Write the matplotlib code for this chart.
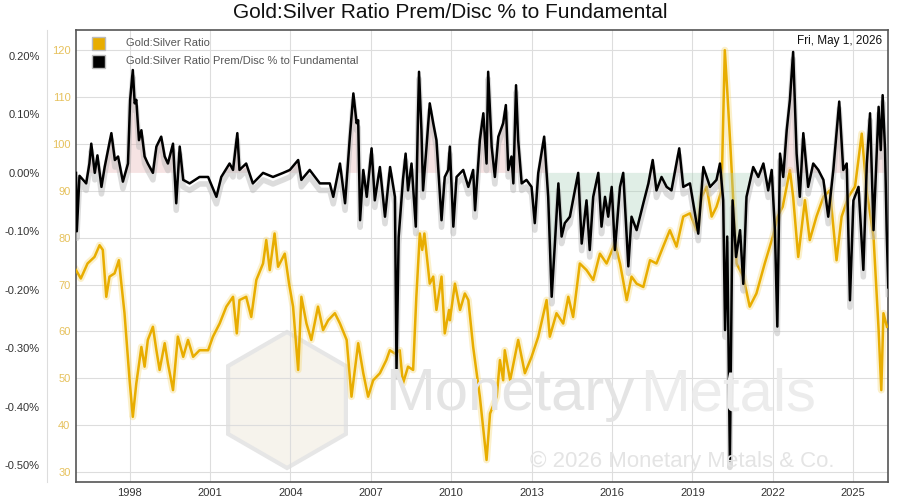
import matplotlib
matplotlib.use("Agg")
import matplotlib.pyplot as plt
import numpy as np
from matplotlib.patches import RegularPolygon, Rectangle
from matplotlib.ticker import FuncFormatter

prem_t = [1996.0,1996.03,1996.13,1996.38,1996.5,1996.57,1996.7,1996.8,1996.95,1997.07,1997.32,1997.45,1997.57,1997.75,1997.94,
1998.02,1998.12,1998.19,1998.25,1998.35,1998.44,1998.56,1998.68,1998.87,1999.0,1999.18,1999.31,1999.43,1999.62,1999.74,1999.87,
2000.0,2000.24,2000.61,2000.93,2001.24,2001.42,2001.73,2001.86,2002.02,2002.1,2002.35,2002.6,2002.98,2003.35,2003.73,2003.98,
2004.29,2004.41,2004.72,2005.1,2005.47,2005.6,2005.85,2006.04,2006.22,2006.35,2006.47,2006.53,2006.6,2006.72,2006.85,2007.03,
2007.15,2007.34,2007.53,2007.72,2007.9,2007.96,2008.04,2008.2,2008.3,2008.39,2008.52,2008.68,2008.76,2008.8,2008.89,2008.95,
2009.08,2009.2,2009.33,2009.45,2009.64,2009.76,2009.89,2009.95,2010.08,2010.2,2010.45,2010.64,2010.82,2010.89,2011.07,2011.2,
2011.32,2011.38,2011.51,2011.63,2011.76,2011.94,2012.04,2012.13,2012.25,2012.32,2012.42,2012.5,2012.63,2012.81,2013.0,2013.12,
2013.25,2013.47,2013.62,2013.75,2013.87,2014.0,2014.12,2014.24,2014.43,2014.74,2014.87,2015.05,2015.17,2015.3,2015.49,2015.61,
2015.74,2015.86,2015.99,2016.11,2016.3,2016.42,2016.61,2016.73,2016.92,2017.17,2017.36,2017.52,2017.66,2017.85,2018.04,2018.22,
2018.51,2018.66,2018.91,2019.22,2019.41,2019.66,2019.9,2020.03,2020.15,2020.22,2020.3,2020.4,2020.5,2020.63,2020.78,2020.9,
2021.02,2021.27,2021.46,2021.65,2021.83,2021.96,2022.08,2022.17,2022.27,2022.39,2022.52,2022.64,2022.76,2022.89,2023.01,2023.14,
2023.32,2023.51,2023.7,2023.89,2024.07,2024.26,2024.48,2024.63,2024.76,2024.88,2025.01,2025.2,2025.38,2025.51,2025.63,2025.76,
2025.95,2026.03,2026.1,2026.19,2026.25,2026.31]
prem_v = [0.0,-0.10,-0.005,-0.018,0.016,0.05,0.0,0.03,-0.024,0.01,0.068,0.022,0.028,-0.015,0.016,
0.125,0.176,0.119,0.125,0.056,0.073,0.028,0.016,0.0,0.045,0.062,0.028,0.016,0.05,-0.052,0.045,
-0.012,-0.018,-0.007,-0.007,-0.041,-0.007,0.016,0.005,0.068,0.005,0.016,-0.018,0.0,-0.007,0.0,0.005,
0.022,-0.012,0.005,-0.018,-0.018,-0.041,0.016,-0.052,0.062,0.136,0.085,0.09,-0.081,0.005,-0.041,0.042,
-0.047,0.01,-0.075,0.01,-0.041,-0.338,-0.11,-0.012,0.033,-0.03,0.016,-0.092,0.096,0.173,0.073,-0.03,
0.045,0.119,0.085,0.056,-0.081,-0.007,0.005,0.045,-0.092,-0.007,0.005,-0.024,0.005,-0.064,0.056,0.102,
0.016,0.173,0.045,-0.007,0.062,0.085,0.116,0.005,0.028,-0.018,0.15,0.056,-0.018,-0.012,-0.024,-0.086,
0.0,0.062,-0.041,-0.212,-0.121,-0.018,-0.109,-0.086,-0.075,0.0,-0.121,-0.047,-0.132,-0.041,0.0,-0.092,
-0.041,-0.075,-0.024,-0.132,-0.024,0.0,-0.16,-0.075,-0.098,-0.052,-0.018,0.022,-0.03,-0.007,-0.024,-0.03,
0.042,-0.024,-0.018,-0.104,0.01,-0.024,-0.012,0.016,-0.047,-0.269,-0.109,-0.492,-0.047,-0.144,-0.098,-0.19,
-0.041,0.01,-0.007,0.016,-0.03,0.005,-0.098,-0.263,0.033,-0.007,0.073,0.125,0.207,0.033,-0.041,0.068,
-0.024,0.016,0.005,-0.012,-0.075,0.005,0.122,0.005,0.016,-0.218,-0.047,-0.024,-0.166,0.016,0.102,-0.098,
0.113,0.039,0.133,0.039,-0.098,-0.196]

gsr_t = [1996.0,1996.18,1996.43,1996.69,1996.88,1997.0,1997.13,1997.25,1997.44,1997.6,1997.81,1998.0,1998.12,1998.25,1998.44,
1998.56,1998.68,1998.87,1999.0,1999.12,1999.31,1999.43,1999.62,1999.8,2000.0,2000.18,2000.37,2000.61,2000.93,2001.11,2001.36,
2001.61,2001.86,2002.0,2002.1,2002.35,2002.54,2002.73,2002.98,2003.1,2003.23,2003.41,2003.54,2003.79,2003.95,2004.1,2004.29,
2004.41,2004.6,2004.78,2005.03,2005.22,2005.41,2005.66,2005.85,2006.1,2006.28,2006.53,2006.72,2006.9,2007.09,2007.34,2007.58,
2007.71,2007.9,2008.08,2008.2,2008.39,2008.58,2008.7,2008.83,2008.92,2009.0,2009.2,2009.33,2009.45,2009.64,2009.76,2009.92,
2009.95,2010.14,2010.33,2010.51,2010.64,2010.82,2011.07,2011.32,2011.45,2011.7,2011.82,2011.94,2012.0,2012.2,2012.5,2012.75,
2013.0,2013.25,2013.56,2013.68,2013.93,2014.18,2014.37,2014.55,2014.8,2015.05,2015.3,2015.55,2015.8,2016.11,2016.3,2016.55,
2016.73,2016.92,2017.17,2017.42,2017.66,2017.91,2018.16,2018.41,2018.66,2018.91,2019.16,2019.35,2019.53,2019.72,2019.9,2020.09,
2020.21,2020.3,2020.42,2020.52,2020.65,2020.9,2021.14,2021.39,2021.7,2022.0,2022.18,2022.37,2022.64,2022.76,2022.95,2023.2,
2023.38,2023.63,2023.89,2024.13,2024.38,2024.57,2024.82,2025.07,2025.32,2025.5,2025.76,2025.95,2026.05,2026.13,2026.26]
gsr_v = [73.1,71.3,74.5,75.9,78.4,77.4,67.4,71.7,72.4,75.2,63.9,49.6,41.8,48.9,56.7,
52.5,58.2,61.0,56.0,51.8,57.5,53.2,47.5,58.9,54.6,58.2,54.6,56.0,56.0,58.9,61.7,
65.3,67.4,59.6,66.7,67.4,63.1,71.0,74.5,79.5,73.1,80.9,73.8,76.6,70.2,65.3,51.8,
67.4,61.7,58.2,65.3,60.3,62.4,63.9,61.7,58.2,46.1,57.5,51.1,46.1,49.6,51.1,53.9,
56.0,55.3,56.0,48.9,52.5,51.8,67.4,80.9,77.4,80.9,70.2,71.7,64.6,71.7,59.6,64.6,
62.4,70.2,64.6,68.1,66.7,56.7,46.1,32.6,42.5,46.1,53.9,49.6,56.0,49.6,58.2,51.1,
54.6,58.9,66.7,58.9,63.9,61.7,67.4,63.1,74.5,73.1,71.0,76.6,74.5,78.8,74.5,66.7,
71.7,70.2,69.5,75.2,74.5,78.1,81.6,78.1,84.5,85.2,81.6,88.7,90.9,84.5,86.6,90.1,
120.0,111.5,99.4,88.7,74.5,71.7,65.3,68.1,74.5,80.2,84.5,86.6,94.4,88.7,75.9,88.0,
79.5,84.5,88.7,90.1,75.2,84.5,88.7,90.9,102.2,90.1,80.2,60.3,47.5,63.9,61.0]

year_ticks = list(range(1998, 2026, 3))
gold_ticks = list(range(30, 121, 10))
pct_ticks = [0.2, 0.1, 0.0, -0.1, -0.2, -0.3, -0.4, -0.5]

fig = plt.figure(figsize=(9, 5), dpi=100)
ax = fig.add_axes([76/900, 18/500, 812/900, 452/500])
ax.set_xlim(1996.0, 2026.3)
ax.set_ylim(27.9, 124.3)
ax.set_xticks(year_ticks)
ax.set_xticklabels([str(y) for y in year_ticks], fontsize=8, color="#333333", family="Liberation Sans")
ax.set_yticks(gold_ticks)
ax.set_yticklabels([str(v) for v in gold_ticks], fontsize=8, color="#e6c15c", family="Liberation Sans")
ax.tick_params(axis="y", length=0, pad=4)
ax.tick_params(axis="x", length=0, pad=4)
ax.grid(True, color="#dddddd", lw=0.8)
for s in ["top", "right", "bottom", "left"]:
    ax.spines[s].set_color("#555555")
    ax.spines[s].set_linewidth(1.2)

# watermark (pixel coordinates)
ax.add_patch(RegularPolygon((287, 500 - 400), 6, radius=68, transform=None, facecolor="#f6f3ec", edgecolor="#e6e6e6", lw=3, zorder=0))
fig.text(385/900, 1 - 395/500, "Monetary", fontsize=43, color="#e4e4e4", family="Liberation Sans", ha="left", va="center", zorder=0)
fig.text(640/900, 1 - 395/500, "Metals", fontsize=43, color="#ececec", family="Liberation Sans", ha="left", va="center", zorder=0)
fig.text(530/900, 1 - 461/500, "© 2026 Monetary Metals & Co.", fontsize=16, color="#e4e4e4", family="Liberation Sans", ha="left", va="center", zorder=0)

ax.plot(gsr_t, gsr_v, color="#f5d56a", lw=5, alpha=0.35, zorder=2, solid_joinstyle="round")
ax.plot(gsr_t, gsr_v, color="#e8ad00", lw=1.8, zorder=3)

ax2 = ax.twinx()
ax2.set_ylim(-0.529, 0.2445)
ax2.yaxis.tick_left()
ax2.yaxis.set_label_position("left")
ax2.spines["left"].set_position(("outward", 21))
ax2.spines["left"].set_color("#dddddd")
for s in ["top", "right", "bottom"]:
    ax2.spines[s].set_visible(False)
ax2.set_yticks(pct_ticks)
ax2.yaxis.set_major_formatter(FuncFormatter(lambda v, p: f"{v:.2f}%"))
ax2.tick_params(axis="y", length=0, pad=5, labelsize=8, labelcolor="#333333")
for lab in ax2.get_yticklabels():
    lab.set_family("Liberation Sans")

pt = np.array(prem_t); pv = np.array(prem_v)
ax2.fill_between(pt, pv, 0.0, where=pv > 0, interpolate=True, color="#e8b0b0", alpha=0.35, lw=0, zorder=1)
ax2.fill_between(pt, pv, 0.0, where=(pv < 0) & (pt > 2013.2) & (pt < 2021.5), interpolate=True, color="#a8d0b8", alpha=0.35, lw=0, zorder=1)
ax2.plot(pt, pv - 0.012, color="#bbbbbb", lw=4, alpha=0.5, zorder=2)
ax2.plot(pt, pv, color="#000000", lw=1.8, zorder=3)

# legend
for i, (c, lab) in enumerate([("#e8ad00", "Gold:Silver Ratio"), ("#000000", "Gold:Silver Ratio Prem/Disc % to Fundamental")]):
    y = 43 + i * 18
    fig.patches.append(Rectangle((92, 500 - y - 7), 13, 13, transform=None, facecolor=c, edgecolor="#bbbbbb", lw=1))
    fig.text(126/900, 1 - y/500, lab, fontsize=8, color="#555555", va="center", family="Liberation Sans")
fig.text(882/900, 1 - 41/500, "Fri, May 1, 2026", fontsize=8.5, color="#111111", ha="right", va="center", family="Liberation Sans")
fig.text(0.5, 1 - 12/500, "Gold:Silver Ratio Prem/Disc % to Fundamental", fontsize=15, ha="center", va="center", color="#111111", family="Liberation Sans")

fig.savefig("out.png", dpi=100)
